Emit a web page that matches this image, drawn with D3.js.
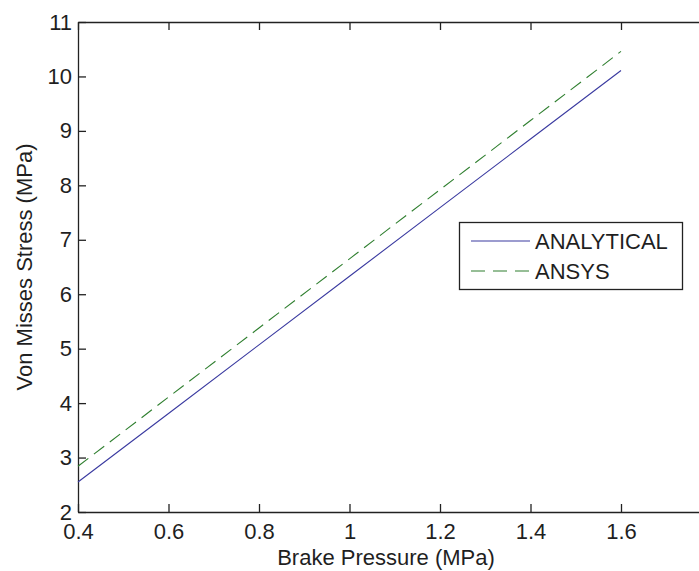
<!DOCTYPE html>
<html>
<head>
<meta charset="utf-8">
<script src="https://cdn.jsdelivr.net/npm/d3@7"></script>
<style>
  body { margin: 0; background: #fff; }
  text { font-family: "Liberation Sans", Arial, sans-serif; fill: #1f1f1f; }
</style>
</head>
<body>
<svg id="chart"></svg>
<script>
var width = 699, height = 571

// brake pressure (MPa)
var pressure = [0.4, 0.6, 0.8, 1.0, 1.2, 1.4, 1.6]
// von mises stress (MPa)
var analytical = [2.55, 3.81, 5.07, 6.33, 7.59, 8.85, 10.11]
var ansys = [2.84, 4.11, 5.38, 6.65, 7.92, 9.19, 10.46]

var xTicks = [0.4, 0.6, 0.8, 1, 1.2, 1.4, 1.6]
var yTicks = [2, 3, 4, 5, 6, 7, 8, 9, 10, 11]

var seriesNames = ["ANALYTICAL", "ANSYS"]
var seriesColors = ["#3a3aa0", "#2f7f2f"]

var svg = d3.select("#chart")
    .attr("width", width)
    .attr("height", height)

var plot = { left: 78, top: 22, bottom: 512 }

// axis runs past the right edge of the picture
var x = d3.scaleLinear()
    .domain([0.4, 1.8])
    .range([plot.left, plot.left + 1.4 * 452.5])

var y = d3.scaleLinear()
    .domain([2, 11])
    .range([plot.bottom, plot.top])

var tickLen = 8
var fs = "22px"

// bottom axis
svg.append("g")
    .attr("transform", "translate(0," + plot.bottom + ")")
    .call(d3.axisBottom(x).tickValues(xTicks).tickSizeInner(-tickLen).tickSizeOuter(0).tickPadding(11).tickFormat(d3.format("")))
    .call(g => g.selectAll("text").style("font-size", fs))

// top axis (no labels)
svg.append("g")
    .attr("transform", "translate(0," + plot.top + ")")
    .call(d3.axisTop(x).tickValues(xTicks).tickSizeInner(-tickLen).tickSizeOuter(0).tickFormat(""))

// left axis
svg.append("g")
    .attr("transform", "translate(" + plot.left + ",0)")
    .call(d3.axisLeft(y).tickValues(yTicks).tickSizeInner(-tickLen).tickSizeOuter(0).tickPadding(6))
    .call(g => g.selectAll("text").style("font-size", fs))

svg.selectAll(".domain").attr("stroke", "#222").attr("stroke-width", 1.3)
svg.selectAll(".tick line").attr("stroke", "#222").attr("stroke-width", 1.3)

// lines
var line = d3.line()
    .x((d, i) => x(pressure[i]))
    .y(d => y(d))

svg.append("path")
    .datum(analytical)
    .attr("d", line)
    .attr("fill", "none")
    .attr("stroke", seriesColors[0])
    .attr("stroke-width", 1.1)

svg.append("path")
    .datum(ansys)
    .attr("d", line)
    .attr("fill", "none")
    .attr("stroke", seriesColors[1])
    .attr("stroke-width", 1.1)
    .attr("stroke-dasharray", "13,7")

// axis titles
svg.append("text")
    .attr("x", 386)
    .attr("y", 565)
    .attr("text-anchor", "middle")
    .style("font-size", fs)
    .text("Brake Pressure (MPa)")

svg.append("text")
    .attr("transform", "translate(32," + (plot.top + plot.bottom) / 2 + ") rotate(-90)")
    .attr("text-anchor", "middle")
    .style("font-size", fs)
    .text("Von Misses Stress (MPa)")

// legend
var legend = svg.append("g")
legend.append("rect")
    .attr("x", 459.5)
    .attr("y", 222.5)
    .attr("width", 223)
    .attr("height", 67)
    .attr("fill", "#fff")
    .attr("stroke", "#222")
    .attr("stroke-width", 1.3)

var rows = legend.selectAll(".row")
    .data(seriesNames)
    .enter()
    .append("g")
    .attr("transform", (d, i) => "translate(0," + (241 + i * 30) + ")")

rows.append("line")
    .attr("x1", 471)
    .attr("x2", 530)
    .attr("stroke", (d, i) => seriesColors[i])
    .attr("stroke-width", 1.1)
    .attr("stroke-dasharray", (d, i) => i == 1 ? "14,8" : null)

rows.append("text")
    .attr("x", 535)
    .attr("dy", "0.36em")
    .style("font-size", fs)
    .text(d => d)
</script>
</body>
</html>
